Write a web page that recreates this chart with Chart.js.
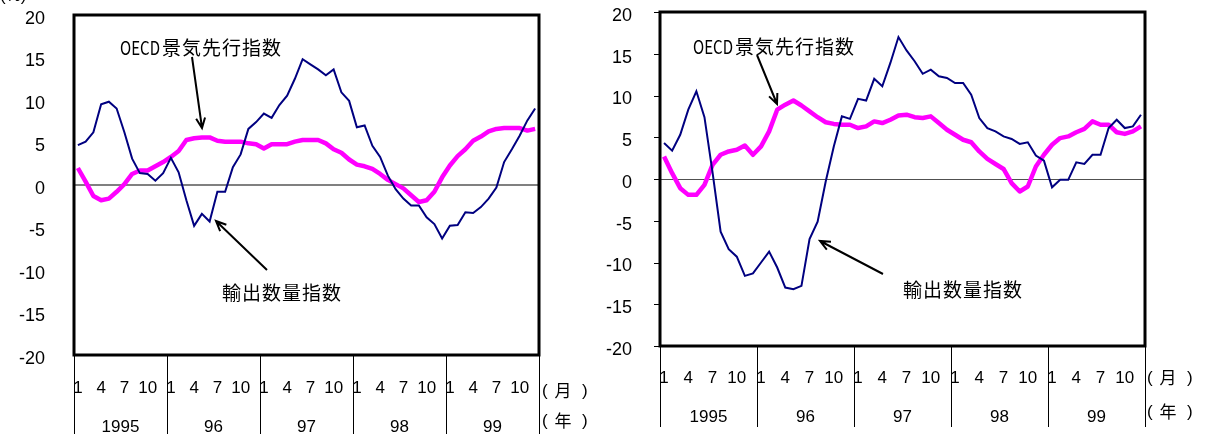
<!DOCTYPE html>
<html><head><meta charset="utf-8">
<script src="https://cdn.jsdelivr.net/npm/chart.js@4.4.1/dist/chart.umd.min.js"></script>
<style>
html,body{margin:0;padding:0;background:#fff;width:1206px;height:434px;overflow:hidden}
.pane{position:absolute;top:0;height:434px}
#paneL{left:0;width:600px}
#paneR{left:600px;width:606px}
</style></head><body>
<div class="pane" id="paneL"><canvas id="chartL" width="600" height="434"></canvas></div>
<div class="pane" id="paneR"><canvas id="chartR" width="606" height="434"></canvas></div>
<script>
// Axis labels
const years = ['1995', '96', '97', '98', '99'];
const monthTicks = ['1', '4', '7', '10'];
const yTicks = [20, 15, 10, 5, 0, -5, -10, -15, -20];
const categories = years.flatMap(y => Array.from({length: 12}, (_, m) => y + '/' + (m + 1)));

// Left panel: export volume index and OECD leading indicator (y/y %, monthly 1995-1999)
const exportsL = [4.7, 5.1, 6.2, 9.5, 9.8, 9.0, 6.2, 3.1, 1.4, 1.3, 0.5, 1.4,
                  3.2, 1.5, -1.8, -4.8, -3.4, -4.3, -0.8, -0.8, 2.1, 3.6, 6.6, 7.4,
                  8.4, 7.9, 9.4, 10.5, 12.5, 14.8, 14.2, 13.6, 12.9, 13.6, 10.9, 9.9,
                  6.8, 7.0, 4.6, 3.3, 1.1, -0.5, -1.6, -2.4, -2.4, -3.8, -4.6, -6.3,
                  -4.8, -4.7, -3.2, -3.3, -2.6, -1.6, -0.3, 2.7, 4.2, 5.8, 7.6, 9.0];
const oecdL = [2.0, 0.4, -1.3, -1.8, -1.6, -0.8, 0.1, 1.3, 1.7, 1.7, 2.2, 2.7,
               3.3, 4.0, 5.3, 5.5, 5.6, 5.6, 5.2, 5.1, 5.1, 5.1, 4.9, 4.8,
               4.3, 4.8, 4.8, 4.8, 5.1, 5.3, 5.3, 5.3, 4.9, 4.2, 3.8, 3.0,
               2.4, 2.2, 1.9, 1.3, 0.6, 0.1, -0.4, -1.2, -2.0, -1.8, -0.8, 0.9,
               2.3, 3.4, 4.2, 5.2, 5.7, 6.3, 6.6, 6.7, 6.7, 6.7, 6.4, 6.6];

// Right panel
const exportsR = [4.3, 3.4, 5.3, 8.3, 10.5, 7.4, 0.8, -6.3, -8.4, -9.3, -11.6, -11.3,
                  -10.0, -8.7, -10.6, -13.0, -13.2, -12.8, -7.2, -5.1, -0.3, 3.9, 7.5, 7.2,
                  9.6, 9.4, 12.0, 11.1, 13.9, 17.0, 15.4, 14.1, 12.6, 13.1, 12.3, 12.1,
                  11.5, 11.5, 10.1, 7.3, 6.1, 5.7, 5.1, 4.8, 4.2, 4.4, 2.8, 2.2,
                  -1.0, -0.1, -0.1, 2.0, 1.8, 2.9, 2.9, 6.1, 7.1, 6.1, 6.3, 7.7];
const oecdR = [2.7, 0.7, -1.1, -1.9, -1.9, -0.7, 1.7, 2.9, 3.3, 3.5, 4.0, 2.9,
               3.9, 5.7, 8.3, 8.9, 9.4, 8.8, 8.1, 7.4, 6.8, 6.6, 6.5, 6.5,
               6.1, 6.3, 6.9, 6.7, 7.1, 7.6, 7.7, 7.4, 7.3, 7.5, 6.7, 5.9,
               5.3, 4.7, 4.4, 3.3, 2.4, 1.8, 1.2, -0.5, -1.5, -0.9, 1.5, 2.9,
               4.1, 4.9, 5.1, 5.6, 6.0, 6.9, 6.5, 6.5, 5.6, 5.4, 5.7, 6.3];

const labelOECD = ['OECD', '景気先行指数'];
const labelExports = '輸出数量指数';
const unitMonth = '月';
const unitYear = '年';

Chart.defaults.font.family = "'Liberation Sans', Arial, sans-serif";
Chart.defaults.color = '#000';

function arrow(ctx, x1, y1, x2, y2) {
  const ang = Math.atan2(y2 - y1, x2 - x1), len = 11, spread = 0.42;
  ctx.beginPath();
  ctx.moveTo(x1, y1); ctx.lineTo(x2, y2);
  ctx.moveTo(x2 - len * Math.cos(ang - spread), y2 - len * Math.sin(ang - spread));
  ctx.lineTo(x2, y2);
  ctx.lineTo(x2 - len * Math.cos(ang + spread), y2 - len * Math.sin(ang + spread));
  ctx.stroke();
}

function unitLabel(ctx, x, y, ch) {
  ctx.textAlign = 'left';
  ctx.font = "17px 'Liberation Sans', Arial, sans-serif";
  ctx.fillText('(', x, y);
  ctx.fillText(')', x + 40, y);
  ctx.textAlign = 'center';
  ctx.font = "17px 'Noto Sans CJK JP'";
  ctx.fillText(ch, x + 21, y);
}

function decor(cfg) {
  return {
    id: 'decor',
    beforeDatasetsDraw(chart) {
      const {ctx, chartArea: a, scales: {y}} = chart;
      const y0 = Math.round(y.getPixelForValue(0)) + (cfg.zeroWidth % 2 ? 0.5 : 0);
      ctx.save();
      ctx.strokeStyle = cfg.zeroColor; ctx.lineWidth = cfg.zeroWidth;
      ctx.beginPath(); ctx.moveTo(a.left, y0); ctx.lineTo(a.right, y0); ctx.stroke();
      ctx.restore();
    },
    afterDraw(chart) {
      const {ctx, chartArea: a, scales: {x, y}} = chart;
      ctx.save();
      // frame
      ctx.strokeStyle = '#000'; ctx.lineWidth = 3;
      ctx.strokeRect(a.left, a.top, a.right - a.left, a.bottom - a.top);
      // value axis labels and tick marks
      ctx.fillStyle = '#000';
      ctx.textBaseline = 'middle'; ctx.textAlign = 'right';
      ctx.font = "18px 'Liberation Sans', Arial, sans-serif";
      ctx.lineWidth = 1;
      yTicks.forEach(v => {
        const py = y.getPixelForValue(v);
        ctx.fillText(String(v), cfg.yLabelRight, py + 4);
        if (cfg.tickLen) {
          const ly = Math.round(py) + 0.5;
          ctx.beginPath(); ctx.moveTo(a.left - cfg.tickLen, ly); ctx.lineTo(a.left, ly); ctx.stroke();
        }
      });
      // year separators and labels
      const edge = i => x.getPixelForValue(i - 0.5);
      for (let k = 0; k <= years.length; k++) {
        const px = Math.round(edge(k * 12)) + 0.5;
        ctx.beginPath(); ctx.moveTo(px, a.bottom + 1); ctx.lineTo(px, cfg.sepBottom); ctx.stroke();
      }
      ctx.textAlign = 'center';
      ctx.font = "17px 'Liberation Sans', Arial, sans-serif";
      years.forEach((yr, k) => {
        monthTicks.forEach(m => {
          ctx.fillText(m, x.getPixelForValue(k * 12 + Number(m) - 1), cfg.monthY);
        });
        ctx.fillText(yr, (edge(k * 12) + edge(k * 12 + 12)) / 2, cfg.yearY);
      });
      unitLabel(ctx, cfg.unitX, cfg.unitMonthY, unitMonth);
      unitLabel(ctx, cfg.unitX, cfg.unitYearY, unitYear);
      if (cfg.caption) {
        ctx.textAlign = 'left';
        ctx.font = "17px 'Liberation Sans', Arial, sans-serif";
        ctx.fillText(cfg.caption, 0, -4);
      }
      // series annotations
      ctx.textAlign = 'left';
      ctx.font = "19px 'Noto Sans CJK JP'";
      ctx.fillText(labelOECD[0], cfg.oecd.x, cfg.oecd.y, 40);
      ctx.letterSpacing = '1px';
      ctx.fillText(labelOECD[1], cfg.oecd.x + 42, cfg.oecd.y);
      ctx.fillText(labelExports, cfg.exp.x, cfg.exp.y);
      ctx.letterSpacing = '0px';
      ctx.lineWidth = 2; ctx.strokeStyle = '#000';
      arrow(ctx, ...cfg.oecd.arrow);
      arrow(ctx, ...cfg.exp.arrow);
      ctx.restore();
    }
  };
}

function build(id, exportsData, oecdData, cfg) {
  new Chart(document.getElementById(id), {
    type: 'line',
    data: {
      labels: categories,
      datasets: [
        {label: labelExports, data: exportsData, borderColor: '#000080', borderWidth: 2,
         pointRadius: 0, tension: 0, fill: false},
        {label: labelOECD.join(''), data: oecdData, borderColor: '#ff00ff', borderWidth: 4.5,
         pointRadius: 0, tension: 0, fill: false, borderJoinStyle: 'round'}
      ]
    },
    options: {
      responsive: false, animation: false,
      layout: {autoPadding: false, padding: {left: 0, top: cfg.top, right: cfg.right, bottom: 0}},
      plugins: {legend: {display: false}, tooltip: {enabled: false}},
      scales: {
        x: {
          type: 'category', offset: true,
          grid: {display: false, drawTicks: false}, border: {display: false},
          ticks: {display: false},
          afterFit: s => { s.height = cfg.xHeight; }
        },
        y: {
          min: -20, max: 20,
          grid: {display: false, drawTicks: false}, border: {display: false},
          ticks: {display: false, stepSize: 5},
          afterFit: s => { s.width = cfg.yWidth; }
        }
      }
    },
    plugins: [decor(cfg)]
  });
}

build('chartL', exportsL, oecdL, {
  top: 15, right: 61, xHeight: 79, yWidth: 74, tickLen: 0, yLabelRight: 45,
  zeroColor: '#808080', zeroWidth: 2,
  sepBottom: 434, monthY: 388, yearY: 427, unitX: 542, unitMonthY: 391, unitYearY: 421,
  caption: '(%)',
  oecd: {x: 120, y: 48, arrow: [192, 57, 202, 128]},
  exp: {x: 222, y: 293, arrow: [267, 270, 216, 221]}
});

build('chartR', exportsR, oecdR, {
  top: 12, right: 61, xHeight: 88, yWidth: 60, tickLen: 6, yLabelRight: 32,
  zeroColor: '#505050', zeroWidth: 1,
  sepBottom: 427, monthY: 378, yearY: 417, unitX: 547, unitMonthY: 378, unitYearY: 412,
  oecd: {x: 93, y: 47, arrow: [157, 55, 177, 104]},
  exp: {x: 303, y: 290, arrow: [283, 274, 220, 241]}
});
</script>
</body></html>
